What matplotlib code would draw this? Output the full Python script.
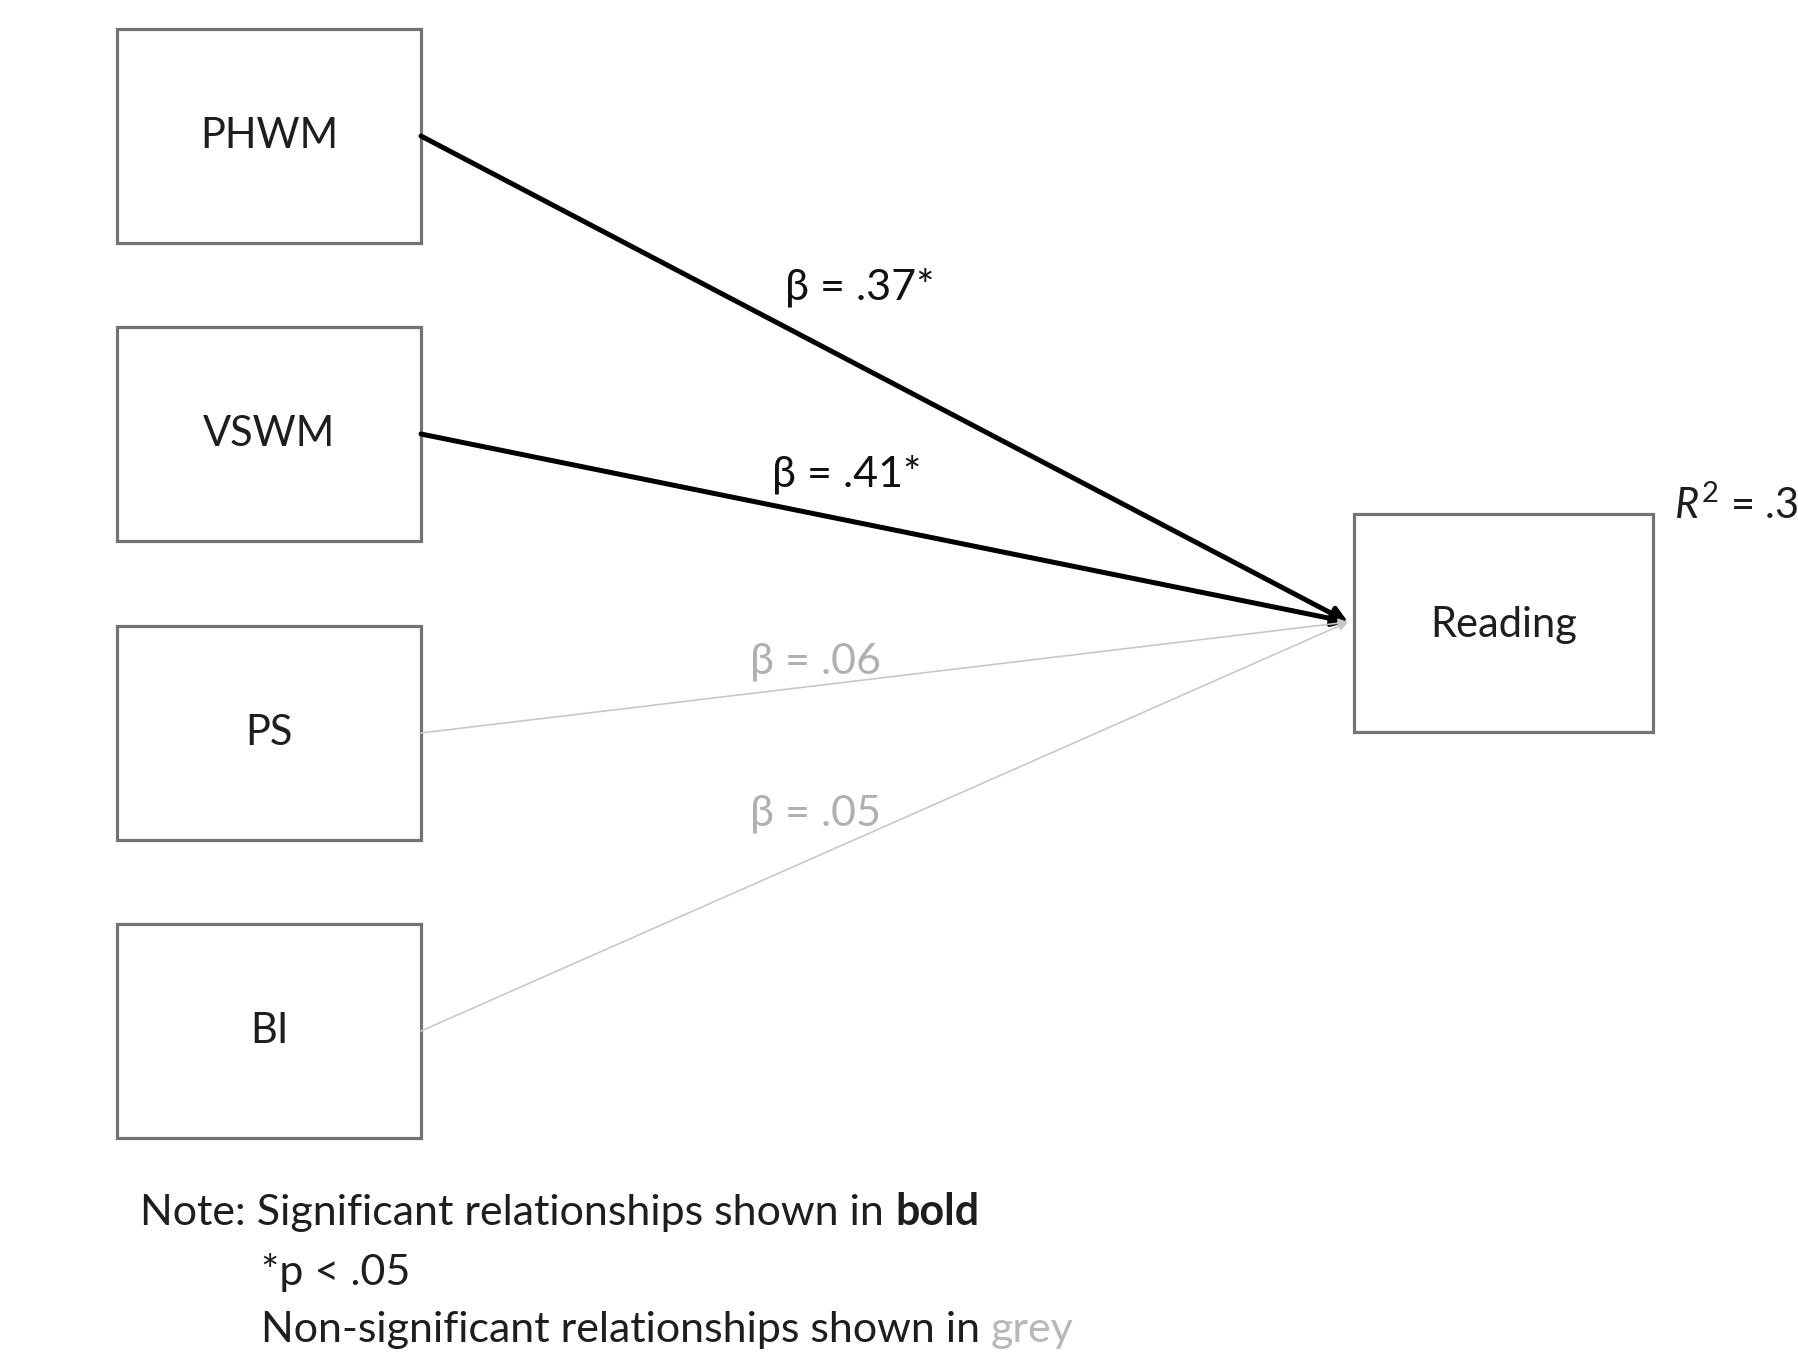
import matplotlib
matplotlib.use("Agg")
import matplotlib.pyplot as plt
from matplotlib.patches import Rectangle, FancyArrowPatch

# ---- data ----
predictors = ["PHWM", "VSWM", "PS", "BI"]
betas = [".37", ".41", ".06", ".05"]
significant = [True, True, False, False]
outcome = "Reading"
r_squared = ".3"
note_lines = ["Note: Significant relationships shown in ", "*p < .05",
              "Non-significant relationships shown in "]

W, H = 1798, 1355
fig = plt.figure(figsize=(W / 100, H / 100), dpi=100)
ax = fig.add_axes([0, 0, 1, 1])
ax.set_xlim(0, W)
ax.set_ylim(H, 0)
ax.axis("off")

FONT = "Lato"
plt.rcParams["mathtext.fontset"] = "custom"
plt.rcParams["mathtext.it"] = "Lato:italic"
plt.rcParams["mathtext.rm"] = "Lato"

box_x0, box_x1 = 117, 421
box_tops = [29, 327, 626, 924]
box_h = 214
edge = "#737373"
txt = "#1e1e1e"

# outcome box
rx0, rx1, ry0, ry1 = 1354, 1653, 514, 732
ax.add_patch(Rectangle((rx0, ry0), rx1 - rx0, ry1 - ry0, fill=False,
                       edgecolor=edge, linewidth=2.3))
ax.text((rx0 + rx1) / 2, (ry0 + ry1) / 2 + 2, outcome, ha="center", va="center",
        fontsize=30, family=FONT, color=txt)
ax.text(1674, 505, r"$\mathit{R}^{2}$ = " + r_squared, ha="left", va="center",
        fontsize=30, family=FONT, color=txt)

tip = (1348, 622)
label_pos = [(860, 287), (847, 474), (815, 662), (815, 814)]

for i, name in enumerate(predictors):
    top = box_tops[i]
    ax.add_patch(Rectangle((box_x0, top), box_x1 - box_x0, box_h, fill=False,
                           edgecolor=edge, linewidth=2.3))
    cy = top + box_h / 2
    ax.text((box_x0 + box_x1) / 2, cy, name, ha="center", va="center",
            fontsize=30, family=FONT, color=txt)
    if significant[i]:
        col, lw, lab = "black", 3.6, "β = " + betas[i] + "*"
        lcol = "#111111"
    else:
        col, lw, lab = "#c8c8c8", 1.2, "β = " + betas[i]
        lcol = "#b0b0b0"
    arr = FancyArrowPatch((box_x1, cy), tip, arrowstyle="-|>",
                          mutation_scale=22 if significant[i] else 14,
                          color=col, linewidth=lw, shrinkA=0, shrinkB=0)
    ax.add_patch(arr)
    ax.text(label_pos[i][0], label_pos[i][1], lab, ha="center", va="center",
            fontsize=31, family=FONT, color=lcol)

# note
NFS = 31
t1 = ax.text(140, 1213, note_lines[0], ha="left", va="center", fontsize=NFS,
             family=FONT, color=txt)
ax.annotate("bold", xy=(1, 0), xycoords=t1, ha="left", va="bottom",
            fontsize=NFS, family=FONT, fontweight="bold", color=txt)
ax.text(261, 1273, note_lines[1], ha="left", va="center", fontsize=NFS,
        family=FONT, color=txt)
t3 = ax.text(261, 1330, note_lines[2], ha="left", va="center", fontsize=NFS,
             family=FONT, color=txt)
ax.annotate("grey", xy=(1, 0), xycoords=t3, ha="left", va="bottom",
            fontsize=NFS, family=FONT, color="#b8b8b8")

fig.savefig("out.png", dpi=100, facecolor="white")
